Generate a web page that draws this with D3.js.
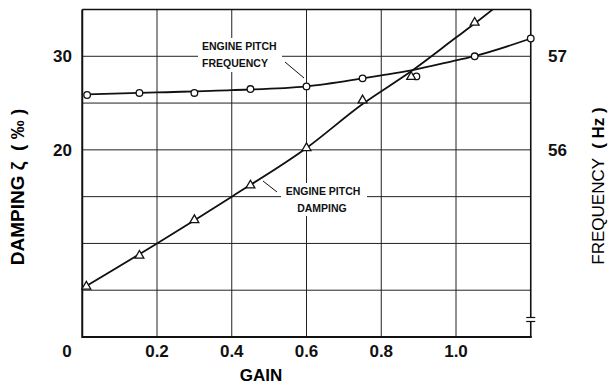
<!DOCTYPE html>
<html>
<head>
<meta charset="utf-8">
<script src="https://cdn.jsdelivr.net/npm/d3@7"></script>
<style>
  body { margin: 0; background: #fff; }
  svg { display: block; font-family: "Liberation Sans", Arial, sans-serif; }
</style>
</head>
<body>
<svg id="chart" width="608" height="385"></svg>
<script>
// ticks
const gainTicks = [0.2, 0.4, 0.6, 0.8, 1.0]
const gainLabels = ["0.2", "0.4", "0.6", "0.8", "1.0"]
const dampGrid = [5, 10, 15, 20, 25, 30]
const dampTicks = [20, 30]
const freqTicks = [56, 57]

// measured points
const freqGain = [0.013, 0.153, 0.30, 0.45, 0.60, 0.75, 0.894, 1.05, 1.2]
const freqHz = [56.586, 56.608, 56.608, 56.65, 56.678, 56.764, 56.785, 57.0, 57.19]
const dampGain = [0.011, 0.153, 0.30, 0.45, 0.60, 0.75, 0.88, 1.05]
const dampVal = [5.4, 8.7, 12.5, 16.2, 20.2, 25.3, 27.8, 33.6]

// faired curves as drawn
const freqFitGain = [0.013, 0.2, 0.4, 0.6, 0.75, 0.8, 0.88, 1.0, 1.05, 1.2]
const freqFit = [56.592, 56.614, 56.638, 56.678, 56.764, 56.796, 56.85, 56.957, 57.003, 57.19]
const dampFitGain = [0.011, 0.2, 0.4, 0.6, 0.75, 0.88, 1.0, 1.05, 1.2]
const dampFit = [5.45, 10.0, 15.0, 20.2, 24.9, 28.4, 32.0, 33.5, 38.3]

const svg = d3.select("#chart")
const L = 82.25, R = 530.75, T = 9.5, B = 337

const x = d3.scaleLinear().domain([0, 1.2]).range([L, R])
const yD = d3.scaleLinear().domain([0, 35]).range([B, T])
const yF = d3.scaleLinear().domain([54, 57.5]).range([B, T])

// grid
svg.append("g").selectAll("line").data(gainTicks).join("line")
  .attr("x1", d => x(d)).attr("x2", d => x(d))
  .attr("y1", T).attr("y2", B)
  .attr("stroke", "#222").attr("stroke-width", 1)
svg.append("g").selectAll("line").data(dampGrid).join("line")
  .attr("x1", L).attr("x2", R)
  .attr("y1", d => yD(d)).attr("y2", d => yD(d))
  .attr("stroke", "#222").attr("stroke-width", 1)

// frame
svg.append("line").attr("x1", L).attr("x2", R).attr("y1", T).attr("y2", T)
  .attr("stroke", "#111").attr("stroke-width", 1.3)
svg.append("line").attr("x1", L).attr("x2", L).attr("y1", T).attr("y2", B + 1)
  .attr("stroke", "#111").attr("stroke-width", 2)
svg.append("line").attr("x1", L).attr("x2", R + 1).attr("y1", B).attr("y2", B)
  .attr("stroke", "#111").attr("stroke-width", 2)
svg.append("line").attr("x1", R).attr("x2", R).attr("y1", T).attr("y2", B)
  .attr("stroke", "#111").attr("stroke-width", 1.6)
// axis break on the right
svg.append("rect").attr("x", R - 2).attr("y", 317.5).attr("width", 4).attr("height", 4).attr("fill", "#fff")
svg.append("g").selectAll("line").data([317.5, 321.5]).join("line")
  .attr("x1", R - 4.5).attr("x2", R + 4.5).attr("y1", d => d).attr("y2", d => d)
  .attr("stroke", "#111").attr("stroke-width", 1.2)

// label backgrounds
svg.append("rect").attr("x", 198).attr("y", 38).attr("width", 84).attr("height", 34).attr("fill", "#fff")
svg.append("rect").attr("x", 281).attr("y", 183).attr("width", 86).attr("height", 33).attr("fill", "#fff")

// curves
svg.append("clipPath").attr("id", "plot").append("rect")
  .attr("x", L).attr("y", T).attr("width", R - L + 6).attr("height", B - T)
const line = d3.line().curve(d3.curveMonotoneX)
const plot = svg.append("g").attr("clip-path", "url(#plot)")
plot.append("path")
  .attr("d", line(freqFitGain.map((g, i) => [x(g), yF(freqFit[i])])))
  .attr("fill", "none").attr("stroke", "#111").attr("stroke-width", 1.8)
plot.append("path")
  .attr("d", line(dampFitGain.map((g, i) => [x(g), yD(dampFit[i])])))
  .attr("fill", "none").attr("stroke", "#111").attr("stroke-width", 1.8)

// markers
svg.append("g").selectAll("circle").data(freqGain).join("circle")
  .attr("cx", d => x(d)).attr("cy", (d, i) => yF(freqHz[i])).attr("r", 3.3)
  .attr("fill", "#fff").attr("stroke", "#111").attr("stroke-width", 1.3)
svg.append("g").selectAll("path").data(dampGain).join("path")
  .attr("d", d3.symbol(d3.symbolTriangle, 34))
  .attr("transform", (d, i) => `translate(${x(d)},${yD(dampVal[i])})`)
  .attr("fill", "#fff").attr("stroke", "#111").attr("stroke-width", 1.3)

// annotations
const ann = svg.append("g").attr("font-size", 10.5).attr("font-weight", "bold").attr("fill", "#111")
ann.append("text").attr("x", 202).attr("y", 50).text("ENGINE PITCH")
ann.append("text").attr("x", 202).attr("y", 67).text("FREQUENCY")
ann.append("text").attr("x", 323).attr("y", 195).attr("text-anchor", "middle").text("ENGINE PITCH")
ann.append("text").attr("x", 322).attr("y", 212).attr("text-anchor", "middle").text("DAMPING")
svg.append("line").attr("x1", 285).attr("y1", 62).attr("x2", 304).attr("y2", 78)
  .attr("stroke", "#111").attr("stroke-width", 1)
svg.append("line").attr("x1", 263).attr("y1", 181).attr("x2", 277).attr("y2", 192)
  .attr("stroke", "#111").attr("stroke-width", 1)

// tick labels
const tl = svg.append("g").attr("font-size", 17).attr("font-weight", "bold").attr("fill", "#111")
tl.selectAll(".gx").data(gainTicks).join("text")
  .attr("x", d => x(d)).attr("y", 357).attr("text-anchor", "middle")
  .text((d, i) => gainLabels[i])
tl.append("text").attr("x", 67).attr("y", 357).attr("text-anchor", "middle").text("0")
tl.selectAll(".yd").data(dampTicks).join("text")
  .attr("x", 72).attr("y", d => yD(d) + 6).attr("text-anchor", "end").text(d => d)
tl.selectAll(".yf").data(freqTicks).join("text")
  .attr("x", 548).attr("y", d => yF(d) + 6).text(d => d)

// axis titles
svg.append("text").attr("x", 261).attr("y", 381).attr("text-anchor", "middle")
  .attr("font-size", 17).attr("font-weight", "bold").text("GAIN")
svg.append("text").attr("transform", "translate(24,187) rotate(-90)")
  .attr("text-anchor", "middle").attr("font-size", 19).attr("font-weight", "bold")
  .attr("xml:space", "preserve").text("DAMPING ζ  ( ‰ )")
const ft = svg.append("text").attr("transform", "translate(604,186) rotate(-90)")
  .attr("text-anchor", "middle").attr("font-size", 17).attr("xml:space", "preserve")
ft.append("tspan").text("FREQUENCY  ")
ft.append("tspan").attr("font-weight", "bold").text("( Hz )")
</script>
</body>
</html>
